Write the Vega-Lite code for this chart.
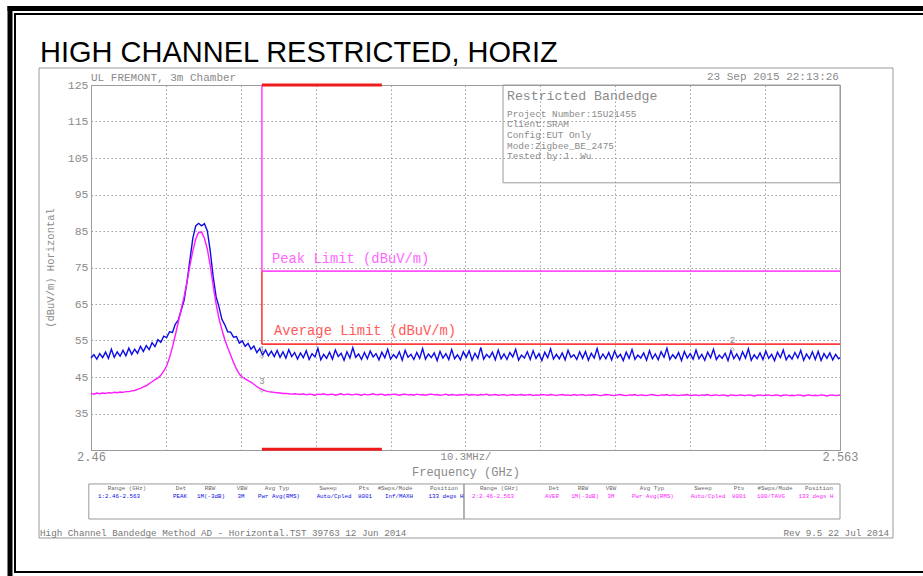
{
  "$schema": "https://vega.github.io/schema/vega-lite/v6.json",
  "width": 749,
  "height": 365,
  "autosize": "none",
  "padding": {"left": 91, "top": 85, "right": 83, "bottom": 126},
  "background": "white",
  "config": {
    "view": {"stroke": "#9a9a9a", "strokeWidth": 1},
    "font": "Liberation Mono",
    "axis": {"gridColor": "#a0a0a0", "gridDash": [1.5, 2.5], "gridWidth": 1, "ticks": false, "domain": false, "labelColor": "#8a8a8a", "titleColor": "#8a8a8a", "labelFont": "Liberation Mono", "titleFont": "Liberation Mono", "titleFontWeight": "normal"}
  },
  "datasets": {
    "trace": [
      {"f":2.4600,"pk":50.2,"av":40.5},{"f":2.4604,"pk":51.1,"av":40.3},{"f":2.4608,"pk":49.9,"av":40.6},{"f":2.4612,"pk":51.4,"av":40.4},
      {"f":2.4616,"pk":50.3,"av":40.6},{"f":2.4620,"pk":51.8,"av":40.5},{"f":2.4624,"pk":50.1,"av":40.7},{"f":2.4628,"pk":52.6,"av":40.6},
      {"f":2.4632,"pk":50.4,"av":40.8},{"f":2.4636,"pk":51.9,"av":40.7},{"f":2.4640,"pk":50.7,"av":40.9},{"f":2.4644,"pk":52.3,"av":40.8},
      {"f":2.4648,"pk":50.8,"av":41.0},{"f":2.4652,"pk":52.9,"av":41.0},{"f":2.4656,"pk":51.2,"av":41.2},{"f":2.4660,"pk":52.6,"av":41.3},
      {"f":2.4664,"pk":51.5,"av":41.6},{"f":2.4668,"pk":53.4,"av":41.9},{"f":2.4672,"pk":52.0,"av":42.3},{"f":2.4676,"pk":53.6,"av":42.6},
      {"f":2.4680,"pk":52.5,"av":43.2},{"f":2.4684,"pk":54.4,"av":43.7},{"f":2.4688,"pk":53.3,"av":44.3},{"f":2.4692,"pk":55.2,"av":44.7},
      {"f":2.4696,"pk":54.5,"av":45.5},{"f":2.4700,"pk":56.2,"av":46.6},{"f":2.4704,"pk":55.8,"av":48.0},{"f":2.4708,"pk":57.4,"av":50.3},
      {"f":2.4712,"pk":57.2,"av":53.2},{"f":2.4716,"pk":59.5,"av":56.5},{"f":2.4720,"pk":60.6,"av":60.0},{"f":2.4724,"pk":63.2,"av":63.5},
      {"f":2.4728,"pk":66.0,"av":67.0},{"f":2.4732,"pk":71.0,"av":71.0},{"f":2.4736,"pk":77.0,"av":75.5},{"f":2.4740,"pk":83.0,"av":79.5},
      {"f":2.4744,"pk":86.4,"av":82.8},{"f":2.4748,"pk":87.1,"av":84.6},{"f":2.4752,"pk":86.4,"av":84.7},{"f":2.4756,"pk":87.0,"av":83.0},
      {"f":2.4760,"pk":85.0,"av":80.0},{"f":2.4764,"pk":79.5,"av":75.5},{"f":2.4768,"pk":72.5,"av":70.0},{"f":2.4772,"pk":67.0,"av":65.0},
      {"f":2.4776,"pk":64.2,"av":61.0},{"f":2.4780,"pk":60.8,"av":58.0},{"f":2.4784,"pk":59.3,"av":55.2},{"f":2.4788,"pk":57.4,"av":53.0},
      {"f":2.4792,"pk":57.3,"av":51.0},{"f":2.4796,"pk":55.9,"av":49.0},{"f":2.4800,"pk":56.1,"av":47.2},{"f":2.4804,"pk":54.3,"av":45.8},
      {"f":2.4808,"pk":54.9,"av":45.0},{"f":2.4812,"pk":53.4,"av":44.5},{"f":2.4816,"pk":54.2,"av":44.0},{"f":2.4820,"pk":52.6,"av":43.6},
      {"f":2.4824,"pk":53.5,"av":43.0},{"f":2.4828,"pk":51.7,"av":42.4},{"f":2.4832,"pk":52.8,"av":41.9},{"f":2.4836,"pk":51.0,"av":41.5},
      {"f":2.4840,"pk":52.4,"av":41.2},{"f":2.4844,"pk":50.8,"av":41.0},{"f":2.4848,"pk":52.1,"av":40.9},{"f":2.4852,"pk":50.6,"av":40.8},
      {"f":2.4856,"pk":52.3,"av":40.7},{"f":2.4860,"pk":50.4,"av":40.6},{"f":2.4864,"pk":51.9,"av":40.5},{"f":2.4868,"pk":50.2,"av":40.5},
      {"f":2.4872,"pk":52.5,"av":40.4},{"f":2.4876,"pk":50.6,"av":40.3},{"f":2.4880,"pk":51.7,"av":40.4},
      {"f":2.4884,"pk":49.9,"av":40.3},{"f":2.4888,"pk":51.6,"av":40.2},{"f":2.4892,"pk":50.3,"av":40.4},{"f":2.4896,"pk":52.2,"av":40.1},
      {"f":2.4900,"pk":49.8,"av":40.3},{"f":2.4904,"pk":51.4,"av":40.2},{"f":2.4908,"pk":50.5,"av":40.0},{"f":2.4912,"pk":52.9,"av":40.3},
      {"f":2.4916,"pk":49.7,"av":40.2},{"f":2.4920,"pk":51.2,"av":40.4},{"f":2.4924,"pk":50.1,"av":40.1},{"f":2.4928,"pk":51.8,"av":40.2},
      {"f":2.4932,"pk":49.9,"av":40.3},{"f":2.4936,"pk":52.4,"av":40.0},{"f":2.4940,"pk":50.6,"av":40.2},{"f":2.4944,"pk":51.5,"av":40.4},
      {"f":2.4948,"pk":49.6,"av":40.1},{"f":2.4952,"pk":51.9,"av":40.3},{"f":2.4956,"pk":50.2,"av":40.2},{"f":2.4960,"pk":53.0,"av":40.1},
      {"f":2.4964,"pk":50.4,"av":40.3},{"f":2.4968,"pk":51.3,"av":40.2},{"f":2.4972,"pk":49.8,"av":40.0},{"f":2.4976,"pk":51.7,"av":40.3},
      {"f":2.4980,"pk":50.0,"av":40.1},{"f":2.4984,"pk":52.1,"av":40.2},{"f":2.4988,"pk":50.5,"av":40.4},{"f":2.4992,"pk":51.4,"av":40.1},
      {"f":2.4996,"pk":49.7,"av":40.2},{"f":2.5000,"pk":51.8,"av":40.3},{"f":2.5004,"pk":50.3,"av":40.0},{"f":2.5008,"pk":52.6,"av":40.2},
      {"f":2.5012,"pk":49.9,"av":40.1},{"f":2.5016,"pk":51.1,"av":40.3},{"f":2.5020,"pk":50.2,"av":40.2},{"f":2.5024,"pk":51.9,"av":40.0},
      {"f":2.5028,"pk":49.6,"av":40.2},{"f":2.5032,"pk":52.3,"av":40.3},{"f":2.5036,"pk":50.4,"av":40.1},{"f":2.5040,"pk":51.2,"av":40.2},
      {"f":2.5044,"pk":49.8,"av":40.0},{"f":2.5048,"pk":51.7,"av":40.3},{"f":2.5052,"pk":50.1,"av":40.1},{"f":2.5056,"pk":52.8,"av":40.2},
      {"f":2.5060,"pk":49.9,"av":40.0},{"f":2.5064,"pk":51.3,"av":40.2},{"f":2.5068,"pk":50.3,"av":40.3},{"f":2.5072,"pk":51.6,"av":40.1},
      {"f":2.5076,"pk":49.5,"av":40.2},{"f":2.5080,"pk":52.0,"av":40.0},{"f":2.5084,"pk":50.2,"av":40.1},{"f":2.5088,"pk":51.4,"av":40.3},
      {"f":2.5092,"pk":49.8,"av":40.0},{"f":2.5096,"pk":52.5,"av":40.2},{"f":2.5100,"pk":50.0,"av":40.1},{"f":2.5104,"pk":51.1,"av":40.0},
      {"f":2.5108,"pk":49.7,"av":40.2},{"f":2.5112,"pk":51.9,"av":40.1},{"f":2.5116,"pk":50.4,"av":40.3},{"f":2.5120,"pk":52.2,"av":40.0},
      {"f":2.5124,"pk":49.6,"av":40.2},{"f":2.5128,"pk":51.5,"av":40.1},{"f":2.5132,"pk":50.1,"av":40.0},{"f":2.5136,"pk":53.1,"av":40.2},
      {"f":2.5140,"pk":49.9,"av":40.1},{"f":2.5144,"pk":51.2,"av":40.3},{"f":2.5148,"pk":50.3,"av":40.0},{"f":2.5152,"pk":51.8,"av":40.1},
      {"f":2.5156,"pk":49.7,"av":40.2},{"f":2.5160,"pk":52.4,"av":40.0},{"f":2.5164,"pk":50.0,"av":40.1},{"f":2.5168,"pk":51.3,"av":40.2},
      {"f":2.5172,"pk":49.8,"av":39.9},{"f":2.5176,"pk":51.7,"av":40.1},{"f":2.5180,"pk":50.5,"av":40.2},{"f":2.5184,"pk":52.6,"av":40.0},
      {"f":2.5188,"pk":49.6,"av":40.1},{"f":2.5192,"pk":51.0,"av":40.2},{"f":2.5196,"pk":50.2,"av":40.0},{"f":2.5200,"pk":51.9,"av":40.1},
      {"f":2.5204,"pk":49.8,"av":40.2},{"f":2.5208,"pk":52.2,"av":39.9},{"f":2.5212,"pk":50.1,"av":40.1},{"f":2.5216,"pk":51.4,"av":40.0},
      {"f":2.5220,"pk":49.5,"av":40.2},{"f":2.5224,"pk":51.8,"av":40.1},{"f":2.5228,"pk":50.3,"av":40.0},{"f":2.5232,"pk":52.7,"av":40.2},
      {"f":2.5236,"pk":49.9,"av":40.1},{"f":2.5240,"pk":51.2,"av":39.9},{"f":2.5244,"pk":50.0,"av":40.1},{"f":2.5248,"pk":51.6,"av":40.2},
      {"f":2.5252,"pk":49.7,"av":40.0},{"f":2.5256,"pk":52.3,"av":40.1},{"f":2.5260,"pk":50.4,"av":39.9},{"f":2.5264,"pk":51.1,"av":40.2},
      {"f":2.5268,"pk":49.8,"av":40.0},{"f":2.5272,"pk":51.9,"av":40.1},{"f":2.5276,"pk":50.1,"av":40.2},{"f":2.5280,"pk":52.0,"av":39.9},
      {"f":2.5284,"pk":49.6,"av":40.1},{"f":2.5288,"pk":51.5,"av":40.0},{"f":2.5292,"pk":50.2,"av":40.2},{"f":2.5296,"pk":52.8,"av":40.1},
      {"f":2.5300,"pk":49.9,"av":39.9},{"f":2.5304,"pk":51.3,"av":40.0},{"f":2.5308,"pk":50.0,"av":40.2},{"f":2.5312,"pk":51.7,"av":40.1},
      {"f":2.5316,"pk":49.7,"av":40.0},{"f":2.5320,"pk":52.1,"av":39.9},{"f":2.5324,"pk":50.3,"av":40.1},{"f":2.5328,"pk":51.2,"av":40.2},
      {"f":2.5332,"pk":49.5,"av":40.0},{"f":2.5336,"pk":51.8,"av":39.9},{"f":2.5340,"pk":50.1,"av":40.1},{"f":2.5344,"pk":52.5,"av":40.0},
      {"f":2.5348,"pk":49.8,"av":40.2},{"f":2.5352,"pk":51.0,"av":39.9},{"f":2.5356,"pk":50.2,"av":40.1},{"f":2.5360,"pk":51.6,"av":40.0},
      {"f":2.5364,"pk":49.6,"av":39.9},{"f":2.5368,"pk":52.2,"av":40.1},{"f":2.5372,"pk":50.0,"av":40.2},{"f":2.5376,"pk":51.3,"av":40.0},
      {"f":2.5380,"pk":49.7,"av":39.9},{"f":2.5384,"pk":51.9,"av":40.1},{"f":2.5388,"pk":50.4,"av":40.0},{"f":2.5392,"pk":52.9,"av":40.2},
      {"f":2.5396,"pk":49.8,"av":39.9},{"f":2.5400,"pk":51.1,"av":40.1},{"f":2.5404,"pk":50.1,"av":40.0},{"f":2.5408,"pk":51.7,"av":39.9},
      {"f":2.5412,"pk":49.5,"av":40.1},{"f":2.5416,"pk":52.0,"av":40.0},{"f":2.5420,"pk":50.2,"av":40.2},{"f":2.5424,"pk":51.4,"av":39.9},
      {"f":2.5428,"pk":49.9,"av":40.0},{"f":2.5432,"pk":52.4,"av":40.1},{"f":2.5436,"pk":50.0,"av":39.9},{"f":2.5440,"pk":51.2,"av":40.1},
      {"f":2.5444,"pk":49.6,"av":40.0},{"f":2.5448,"pk":51.8,"av":40.2},{"f":2.5452,"pk":50.3,"av":39.9},{"f":2.5456,"pk":52.6,"av":40.0},
      {"f":2.5460,"pk":49.8,"av":40.1},{"f":2.5464,"pk":51.0,"av":39.9},{"f":2.5468,"pk":50.1,"av":40.1},{"f":2.5472,"pk":51.5,"av":40.0},
      {"f":2.5476,"pk":49.5,"av":39.8},{"f":2.5480,"pk":52.2,"av":40.1},{"f":2.5484,"pk":50.0,"av":40.0},{"f":2.5488,"pk":51.3,"av":39.9},
      {"f":2.5492,"pk":49.7,"av":40.1},{"f":2.5496,"pk":51.9,"av":40.0},{"f":2.5500,"pk":50.2,"av":39.9},{"f":2.5504,"pk":52.7,"av":40.1},
      {"f":2.5508,"pk":49.6,"av":40.0},{"f":2.5512,"pk":51.1,"av":39.8},{"f":2.5516,"pk":50.0,"av":40.0},{"f":2.5520,"pk":51.6,"av":40.1},
      {"f":2.5524,"pk":49.8,"av":39.9},{"f":2.5528,"pk":52.1,"av":40.0},{"f":2.5532,"pk":50.1,"av":40.1},{"f":2.5536,"pk":51.2,"av":39.9},
      {"f":2.5540,"pk":49.5,"av":40.0},{"f":2.5544,"pk":51.8,"av":40.1},{"f":2.5548,"pk":50.3,"av":39.8},{"f":2.5552,"pk":52.4,"av":40.0},
      {"f":2.5556,"pk":49.7,"av":40.1},{"f":2.5560,"pk":51.0,"av":39.9},{"f":2.5564,"pk":49.9,"av":40.0},{"f":2.5568,"pk":51.7,"av":39.9},
      {"f":2.5572,"pk":50.2,"av":40.1},{"f":2.5576,"pk":52.3,"av":40.0},{"f":2.5580,"pk":49.6,"av":39.8},{"f":2.5584,"pk":51.3,"av":40.0},
      {"f":2.5588,"pk":50.0,"av":40.1},{"f":2.5592,"pk":51.9,"av":39.9},{"f":2.5596,"pk":49.8,"av":40.0},{"f":2.5600,"pk":52.0,"av":39.9},
      {"f":2.5604,"pk":49.5,"av":40.1},{"f":2.5608,"pk":51.4,"av":40.0},{"f":2.5612,"pk":50.1,"av":39.8},{"f":2.5616,"pk":51.6,"av":40.0},
      {"f":2.5620,"pk":49.7,"av":40.1},{"f":2.5624,"pk":51.2,"av":39.9},{"f":2.5628,"pk":50.0,"av":40.0},{"f":2.5630,"pk":50.3,"av":40.0}
    ],
    "frame": [
      {"f":2.448517,"f2":2.58,"v":146.64,"v2":145.27},
      {"f":2.449411,"f2":2.58,"v":144.73,"v2":144.18},
      {"f":2.448517,"f2":2.449205,"v":146.64,"v2":-10},
      {"f":2.449411,"f2":2.449686,"v":144.73,"v2":-8.70},
      {"f":2.449411,"f2":2.58,"v":-8.15,"v2":-8.70}
    ],
    "boxes": [
      {"f":2.45285,"f2":2.57029,"v":129.66,"v2":0.89},
      {"f":2.51666,"f2":2.563,"v":125,"v2":98.2},
      {"f":2.4597,"f2":2.563,"v":15.69,"v2":6.10},
      {"f":2.51129,"f2":2.51129,"v":15.69,"v2":6.10}
    ],
    "limits": [
      {"f":2.4835,"f2":2.4835,"v":125,"v2":74,"s":"Peak"},
      {"f":2.4835,"f2":2.563,"v":74,"v2":74,"s":"Peak"},
      {"f":2.4835,"f2":2.4835,"v":74,"v2":54,"s":"Average"},
      {"f":2.4835,"f2":2.563,"v":54,"v2":54,"s":"Average"}
    ],
    "bands": [
      {"f":2.4835,"f2":2.5,"v":125,"v2":125},
      {"f":2.4835,"f2":2.5,"v":25.2,"v2":25.2}
    ]
  },
  "encoding": {
    "x": {"field": "f", "type": "quantitative",
      "scale": {"domain": [2.46, 2.563], "nice": false, "zero": false},
      "axis": {"values": [2.46, 2.4703, 2.4806, 2.4909, 2.5012, 2.5115, 2.5218, 2.5321, 2.5424, 2.5527, 2.563],
        "labelExpr": "datum.value == 2.46 ? '2.46' : datum.value == 2.5115 ? '10.3MHz/' : datum.value == 2.563 ? '2.563' : ''",
        "labelFontSize": {"condition": {"test": "datum.value == 2.5115", "value": 10.6}, "value": 12},
        "labelPadding": 1, "labelOverlap": false, "labelFlush": false, "labelBound": false,
        "title": "Frequency (GHz)", "titleFontSize": 12, "titlePadding": 4}},
    "y": {"field": "v", "type": "quantitative",
      "scale": {"domain": [25, 125], "nice": false, "zero": false},
      "axis": {"values": [35, 45, 55, 65, 75, 85, 95, 105, 115, 125], "labelFontSize": 11.5, "labelPadding": 3,
        "title": "(dBuV/m) Horizontal", "titleFontSize": 10.5, "titlePadding": 12}}
  },
  "layer": [
    {"data": {"name": "frame"}, "mark": {"type": "rect", "fill": "black"},
     "encoding": {"x2": {"field": "f2"}, "y2": {"field": "v2"}}},
    {"data": {"name": "boxes"}, "mark": {"type": "rect", "fill": null, "fillOpacity": 0, "stroke": "#9a9a9a", "strokeWidth": 1},
     "encoding": {"x2": {"field": "f2"}, "y2": {"field": "v2"}}},
    {"data": {"name": "trace"},
     "transform": [{"fold": ["pk", "av"], "as": ["s", "v"]}],
     "mark": {"type": "line", "strokeWidth": 1.4, "interpolate": "linear"},
     "encoding": {
       "color": {"field": "s", "type": "nominal", "legend": null,
         "scale": {"domain": ["pk", "av", "Peak", "Average"], "range": ["#0c0ce6", "#ff1aff", "#ff4dff", "#ff3b3b"]}},
       "detail": {"field": "s"}}},
    {"data": {"name": "limits"}, "mark": {"type": "rule", "strokeWidth": 1.6},
     "encoding": {"x2": {"field": "f2"}, "y2": {"field": "v2"},
       "color": {"field": "s", "type": "nominal", "legend": null}}},
    {"data": {"name": "bands"}, "mark": {"type": "rule", "strokeWidth": 3, "color": "#ee1c1c"},
     "encoding": {"x2": {"field": "f2"}, "y2": {"field": "v2"}}},
    {"data": {"values": [{"f":2.4835,"v":50.6},{"f":2.4835,"v":41.3},{"f":2.5482,"v":52.6}]},
     "mark": {"type": "point", "shape": "diamond", "size": 14, "color": "#888888", "filled": false, "strokeWidth": 1},
     "encoding": {}},
    {"data": {"values": [{"f":2.4835,"v":52.7,"t":"1"},{"f":2.4835,"v":44.0,"t":"3"},{"f":2.5482,"v":55.2,"t":"2"}]},
     "mark": {"type": "text", "fontSize": 9, "color": "#888888", "align": "center", "baseline": "middle"},
     "encoding": {"text": {"field": "t"}}},
    {"data": {"values": [{"f":2.45299,"v":131.30,"t":"HIGH CHANNEL RESTRICTED, HORIZ"}]},
     "mark": {"type": "text", "font": "Liberation Sans", "fontSize": 29, "color": "black", "align": "left", "baseline": "alphabetic"},
     "encoding": {"text": {"field": "t"}}},
    {"data": {"values": [{"f":2.46,"v":126.1,"t":"UL FREMONT, 3m Chamber"}]},
     "mark": {"type": "text", "fontSize": 11, "color": "#8a8a8a", "align": "left", "baseline": "alphabetic"},
     "encoding": {"text": {"field": "t"}}},
    {"data": {"values": [{"f":2.56286,"v":126.37,"t":"23 Sep 2015   22:13:26"}]},
     "mark": {"type": "text", "fontSize": 11, "color": "#8a8a8a", "align": "right", "baseline": "alphabetic"},
     "encoding": {"text": {"field": "t"}}},
    {"data": {"values": [{"f":2.51721,"v":120.89,"t":"Restricted Bandedge"}]},
     "mark": {"type": "text", "fontSize": 13.2, "color": "#8a8a8a", "align": "left", "baseline": "alphabetic"},
     "encoding": {"text": {"field": "t"}}},
    {"data": {"values": [
       {"f":2.51721,"v":116.23,"t":"Project Number:15U21455"},
       {"f":2.51721,"v":113.36,"t":"Client:SRAM"},
       {"f":2.51721,"v":110.48,"t":"Config:EUT Only"},
       {"f":2.51721,"v":107.60,"t":"Mode:Zigbee_BE_2475"},
       {"f":2.51721,"v":104.73,"t":"Tested by:J. Wu"}]},
     "mark": {"type": "text", "fontSize": 9.4, "color": "#8a8a8a", "align": "left", "baseline": "alphabetic"},
     "encoding": {"text": {"field": "t"}}},
    {"data": {"values": [
       {"f":2.48489,"v":77.3,"t":"Peak Limit (dBuV/m)","s":"Peak"},
       {"f":2.48516,"v":57.6,"t":"Average Limit (dBuV/m)","s":"Average"}]},
     "mark": {"type": "text", "fontSize": 13.8, "align": "left", "baseline": "middle", "opacity": 0.85},
     "encoding": {"text": {"field": "t"}, "color": {"field": "s", "type": "nominal", "legend": null}}},
    {"data": {"values": [
       {"f":2.46495,"v":14.59,"t":"Range (GHz)"},{"f":2.47238,"v":14.59,"t":"Det"},{"f":2.47636,"v":14.59,"t":"RBW"},
       {"f":2.48077,"v":14.59,"t":"VBW"},{"f":2.48558,"v":14.59,"t":"Avg Typ"},{"f":2.49259,"v":14.59,"t":"Sweep"},
       {"f":2.49754,"v":14.59,"t":"Pts"},{"f":2.50181,"v":14.59,"t":"#Swps/Mode"},{"f":2.50854,"v":14.59,"t":"Position"},
       {"f":2.51611,"v":14.59,"t":"Range (GHz)"},{"f":2.52367,"v":14.59,"t":"Det"},{"f":2.52766,"v":14.59,"t":"RBW"},
       {"f":2.53151,"v":14.59,"t":"VBW"},{"f":2.53715,"v":14.59,"t":"Avg Typ"},{"f":2.54416,"v":14.59,"t":"Sweep"},
       {"f":2.54911,"v":14.59,"t":"Pts"},{"f":2.55406,"v":14.59,"t":"#Swps/Mode"},{"f":2.56011,"v":14.59,"t":"Position"}]},
     "mark": {"type": "text", "fontSize": 5.8, "color": "#666666", "align": "center", "baseline": "middle"},
     "encoding": {"text": {"field": "t"}}},
    {"data": {"values": [
       {"f":2.46385,"v":12.40,"t":"1:2.46-2.563","s":"pk"},{"f":2.47224,"v":12.40,"t":"PEAK","s":"pk"},
       {"f":2.47650,"v":12.40,"t":"1M(-3dB)","s":"pk"},{"f":2.48063,"v":12.40,"t":"3M","s":"pk"},
       {"f":2.48585,"v":12.40,"t":"Pwr Avg(RMS)","s":"pk"},{"f":2.49342,"v":12.40,"t":"Auto/Cpled","s":"pk"},
       {"f":2.49768,"v":12.40,"t":"8001","s":"pk"},{"f":2.50236,"v":12.40,"t":"Inf/MAXH","s":"pk"},
       {"f":2.50882,"v":12.40,"t":"133 degs H","s":"pk"},
       {"f":2.51528,"v":12.40,"t":"2:2.46-2.563","s":"av"},{"f":2.52340,"v":12.40,"t":"AVER","s":"av"},
       {"f":2.52794,"v":12.40,"t":"1M(-3dB)","s":"av"},{"f":2.53151,"v":12.40,"t":"3M","s":"av"},
       {"f":2.53728,"v":12.40,"t":"Pwr Avg(RMS)","s":"av"},{"f":2.54485,"v":12.40,"t":"Auto/Cpled","s":"av"},
       {"f":2.54911,"v":12.40,"t":"8001","s":"av"},{"f":2.55351,"v":12.40,"t":"100/TAVG","s":"av"},
       {"f":2.55970,"v":12.40,"t":"133 degs H","s":"av"}]},
     "mark": {"type": "text", "fontSize": 5.8, "align": "center", "baseline": "middle"},
     "encoding": {"text": {"field": "t"}, "color": {"field": "s", "type": "nominal", "legend": null}}},
    {"data": {"values": [{"f":2.45299,"v":1.44,"t":"High Channel Bandedge Method AD - Horizontal.TST 39763 12 Jun 2014"}]},
     "mark": {"type": "text", "fontSize": 9.25, "color": "#777777", "align": "left", "baseline": "alphabetic"},
     "encoding": {"text": {"field": "t"}}},
    {"data": {"values": [{"f":2.56974,"v":1.44,"t":"Rev 9.5 22 Jul 2014"}]},
     "mark": {"type": "text", "fontSize": 9.25, "color": "#777777", "align": "right", "baseline": "alphabetic"},
     "encoding": {"text": {"field": "t"}}}
  ]
}
